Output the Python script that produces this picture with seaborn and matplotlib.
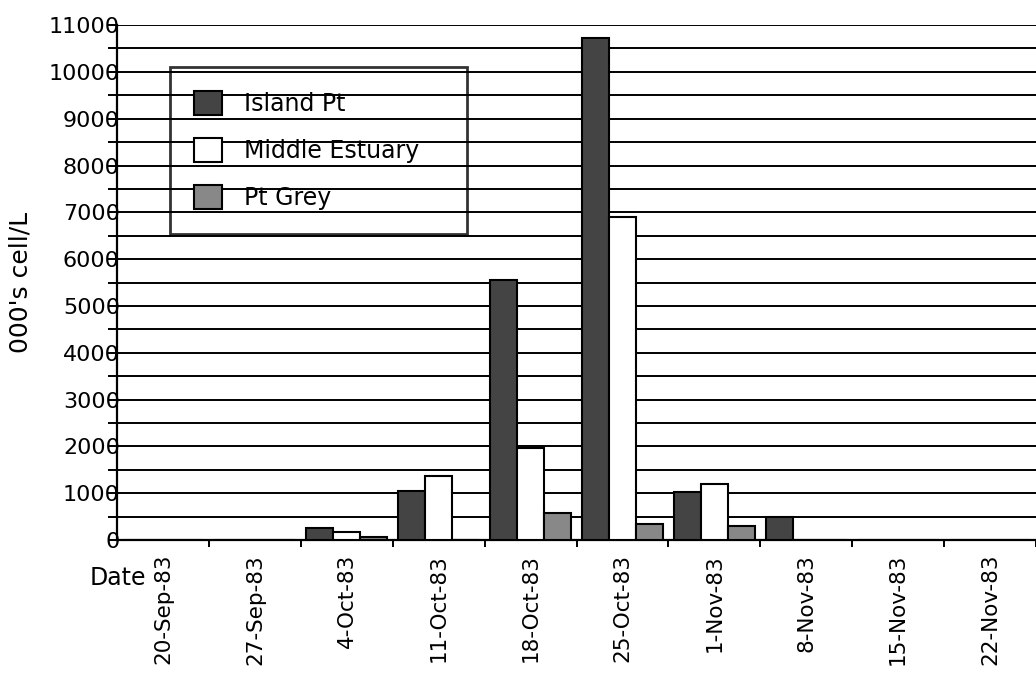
import pandas as pd
import numpy as np
import seaborn as sns
import matplotlib.pyplot as plt
from matplotlib.ticker import MultipleLocator

dates=["20-Sep-83","27-Sep-83","4-Oct-83","11-Oct-83","18-Oct-83","25-Oct-83","1-Nov-83","8-Nov-83","15-Nov-83","22-Nov-83"]
island_pt=[0,0,250,1050,5550,10730,1030,490,0,0]
middle_estuary=[0,0,170,1370,1970,6900,1200,0,0,0]
pt_grey=[0,0,60,0,580,350,290,0,0,0]
sites=["Island Pt","Middle Estuary","Pt Grey"]
colors={"Island Pt":"#444444","Middle Estuary":"#ffffff","Pt Grey":"#888888"}

df=pd.DataFrame({"Date":dates*3,"Site":np.repeat(sites,len(dates)),"Value":island_pt+middle_estuary+pt_grey})

sns.set_style("white")
plt.rcParams["font.family"]=["DejaVu Sans"]
plt.rcParams["text.color"]="black"
plt.rcParams["xtick.color"]="black"
plt.rcParams["ytick.color"]="black"
plt.rcParams["axes.labelcolor"]="black"
fig=plt.figure(figsize=(10.36,6.78),dpi=100)
ax=fig.add_axes([0.113,0.2035,0.887,0.7595])
sns.barplot(data=df,x="Date",y="Value",hue="Site",order=dates,hue_order=sites,palette=colors,width=0.88,edgecolor="black",linewidth=1.5,ax=ax,zorder=3)
ax.set_ylim(0,11000)
ax.set_xlim(-0.5,len(dates)-0.5)
ax.yaxis.set_major_locator(MultipleLocator(1000))
ax.yaxis.set_minor_locator(MultipleLocator(500))
ax.grid(True,axis="y",which="both",color="black",linewidth=1.4,zorder=0)
ax.set_axisbelow(True)
for s in ["top","right"]:
    ax.spines[s].set_visible(False)
for s in ["left","bottom"]:
    ax.spines[s].set_color("black")
    ax.spines[s].set_linewidth(1.6)
ax.tick_params(axis="y",which="both",direction="out",length=6.5,width=1.4,left=True,pad=-8.5,labelsize=16)
ax.tick_params(axis="x",which="major",length=0,labelsize=15.5,pad=10)
ax.set_xticks(np.arange(len(dates))+0.5,minor=True)
ax.tick_params(axis="x",which="minor",direction="out",length=5,width=1.4,bottom=True)
ax.set_xticks(np.arange(len(dates)))
ax.set_xticklabels(dates,rotation=90,va="top",ha="center")
ax.set_xlabel("")
ax.set_ylabel("000's cell/L",fontsize=18,labelpad=12)
ax.text(-0.03,-0.074,"Date",transform=ax.transAxes,fontsize=17,ha="left",va="center")

handles,labels=ax.get_legend_handles_labels()
leg=ax.legend(handles,labels,loc="upper left",bbox_to_anchor=(0.058,0.592,0.323,0.326),mode="expand",fontsize=17,frameon=True,fancybox=False,handlelength=1.2,handleheight=1.2,handletextpad=0.93,labelspacing=0.93,borderpad=1.0,borderaxespad=0)
leg.get_frame().set_facecolor("none")
leg.get_frame().set_edgecolor("black")
leg.get_frame().set_linewidth(2)
leg.set_zorder(5)
fig.savefig("out.png",dpi=100)
